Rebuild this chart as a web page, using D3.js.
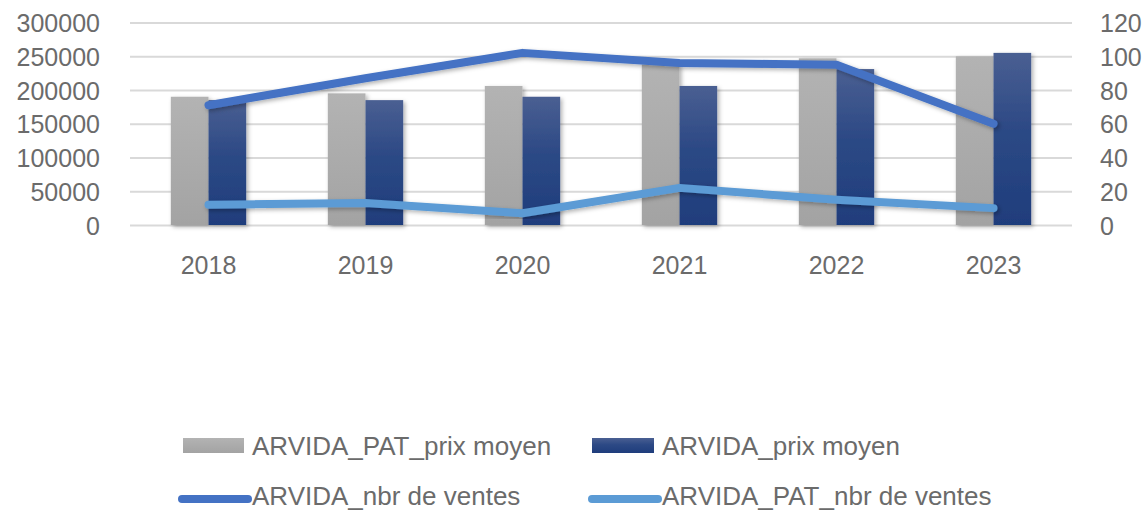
<!DOCTYPE html>
<html>
<head>
<meta charset="utf-8">
<script src="https://cdn.jsdelivr.net/npm/d3@7"></script>
<style>
  html, body { margin: 0; padding: 0; background: #fff; }
  svg text { font-family: 'Liberation Sans', Arial, sans-serif; fill: #6b6b6b; }
  .grid line { stroke: #d9d9d9; stroke-width: 2; }
  .grid path { display: none; }
  .axis path, .axis line { display: none; }
</style>
</head>
<body>
<div id="vis"></div>
<script>
const years = ['2018', '2019', '2020', '2021', '2022', '2023']
const patPrixMoyen = [190000, 195000, 206000, 238000, 247000, 250000]
const prixMoyen = [185000, 185000, 190000, 206000, 231000, 255000]
const nbrVentes = [71, 87, 102, 96, 95, 60]
const patNbrVentes = [12, 13, 7, 22, 15, 10]
const leftTicks = [0, 50000, 100000, 150000, 200000, 250000, 300000]
const rightTicks = [0, 20, 40, 60, 80, 100, 120]

const width = 1148
const height = 511
const margin = { top: 22.5, right: 76, bottom: 286, left: 130 }

const svg = d3.select('#vis').append('svg')
  .attr('width', width).attr('height', height)
  .attr('viewBox', [0, 0, width, height])

const defs = svg.append('defs')
const grayGrad = defs.append('linearGradient').attr('id', 'gray-grad')
  .attr('x1', 0).attr('y1', 0).attr('x2', 0).attr('y2', 1)
grayGrad.append('stop').attr('offset', '0%').attr('stop-color', '#b3b3b3')
grayGrad.append('stop').attr('offset', '100%').attr('stop-color', '#a3a3a3')
const blueGrad = defs.append('linearGradient').attr('id', 'blue-grad')
  .attr('x1', 0).attr('y1', 0).attr('x2', 0).attr('y2', 1)
blueGrad.append('stop').attr('offset', '0%').attr('stop-color', '#4a5f92')
blueGrad.append('stop').attr('offset', '45%').attr('stop-color', '#2c4985')
blueGrad.append('stop').attr('offset', '100%').attr('stop-color', '#1f3d7c')
const shadow = defs.append('filter').attr('id', 'shadow')
  .attr('x', '-20%').attr('y', '-20%').attr('width', '140%').attr('height', '140%')
shadow.append('feDropShadow')
  .attr('dx', 2).attr('dy', 2).attr('stdDeviation', 2)
  .attr('flood-color', '#000').attr('flood-opacity', 0.3)

const x0 = d3.scaleBand()
  .domain(years)
  .range([margin.left, width - margin.right])
  .paddingInner(0.52)
  .paddingOuter(0.26)

const x1 = d3.scaleBand()
  .domain(['pat', 'arvida'])
  .range([0, x0.bandwidth()])

const yLeft = d3.scaleLinear()
  .domain([0, 300000])
  .range([height - margin.bottom, margin.top])

const yRight = d3.scaleLinear()
  .domain([0, 120])
  .range([height - margin.bottom, margin.top])

// gridlines
svg.append('g')
  .attr('class', 'grid')
  .attr('transform', `translate(${margin.left},0)`)
  .call(d3.axisLeft(yLeft).tickValues(leftTicks)
    .tickSize(-(width - margin.left - margin.right)).tickFormat(''))

// axes
svg.append('g')
  .attr('class', 'axis y-left')
  .attr('transform', `translate(${margin.left - 30},0)`)
  .call(d3.axisLeft(yLeft).tickValues(leftTicks).tickSize(0).tickPadding(0).tickFormat(d3.format('d')))
  .selectAll('text').attr('font-size', 25).attr('dy', '0.36em')

svg.append('g')
  .attr('class', 'axis y-right')
  .attr('transform', `translate(${width - margin.right + 28},0)`)
  .call(d3.axisRight(yRight).tickValues(rightTicks).tickSize(0).tickPadding(0))
  .selectAll('text').attr('font-size', 25).attr('dy', '0.36em')

svg.append('g')
  .attr('class', 'axis x')
  .attr('transform', `translate(0,${height - margin.bottom + 31})`)
  .call(d3.axisBottom(x0).tickSize(0).tickPadding(0))
  .selectAll('text').attr('font-size', 25).attr('dy', '0.71em')

// bars
const groups = svg.append('g').selectAll('g')
  .data(years)
  .join('g')
  .attr('transform', (d) => `translate(${x0(d)},0)`)

groups.append('rect')
  .attr('x', x1('pat'))
  .attr('width', x1.bandwidth())
  .attr('y', (d, i) => yLeft(patPrixMoyen[i]))
  .attr('height', (d, i) => yLeft(0) - yLeft(patPrixMoyen[i]))
  .attr('fill', 'url(#gray-grad)')
  .attr('filter', 'url(#shadow)')

groups.append('rect')
  .attr('x', x1('arvida'))
  .attr('width', x1.bandwidth())
  .attr('y', (d, i) => yLeft(prixMoyen[i]))
  .attr('height', (d, i) => yLeft(0) - yLeft(prixMoyen[i]))
  .attr('fill', 'url(#blue-grad)')
  .attr('filter', 'url(#shadow)')

// lines
const cx = (d, i) => x0(years[i]) + x0.bandwidth() / 2
const line = d3.line()
  .x(cx)
  .y((d) => yRight(d))

svg.append('path')
  .attr('d', line(nbrVentes))
  .attr('fill', 'none')
  .attr('stroke', '#4472c4')
  .attr('stroke-width', 8)
  .attr('stroke-linecap', 'round')
  .attr('stroke-linejoin', 'round')
  .attr('filter', 'url(#shadow)')

svg.append('path')
  .attr('d', line(patNbrVentes))
  .attr('fill', 'none')
  .attr('stroke', '#5b9bd5')
  .attr('stroke-width', 8)
  .attr('stroke-linecap', 'round')
  .attr('stroke-linejoin', 'round')
  .attr('filter', 'url(#shadow)')

// legend
const legend = svg.append('g').attr('class', 'legend')

legend.append('rect')
  .attr('x', 183).attr('y', 438).attr('width', 61).attr('height', 15)
  .attr('fill', 'url(#gray-grad)')
legend.append('text')
  .attr('x', 252).attr('y', 455).attr('font-size', 26)
  .text('ARVIDA_PAT_prix moyen')

legend.append('rect')
  .attr('x', 592).attr('y', 438).attr('width', 62).attr('height', 15)
  .attr('fill', 'url(#blue-grad)')
legend.append('text')
  .attr('x', 662).attr('y', 455).attr('font-size', 26)
  .text('ARVIDA_prix moyen')

legend.append('path')
  .attr('d', 'M182,499L248,499')
  .attr('stroke', '#4472c4').attr('stroke-width', 8).attr('stroke-linecap', 'round')
legend.append('text')
  .attr('x', 252).attr('y', 505).attr('font-size', 26)
  .text('ARVIDA_nbr de ventes')

legend.append('path')
  .attr('d', 'M592,499L658,499')
  .attr('stroke', '#5b9bd5').attr('stroke-width', 8).attr('stroke-linecap', 'round')
legend.append('text')
  .attr('x', 662).attr('y', 505).attr('font-size', 26)
  .text('ARVIDA_PAT_nbr de ventes')
</script>
</body>
</html>
